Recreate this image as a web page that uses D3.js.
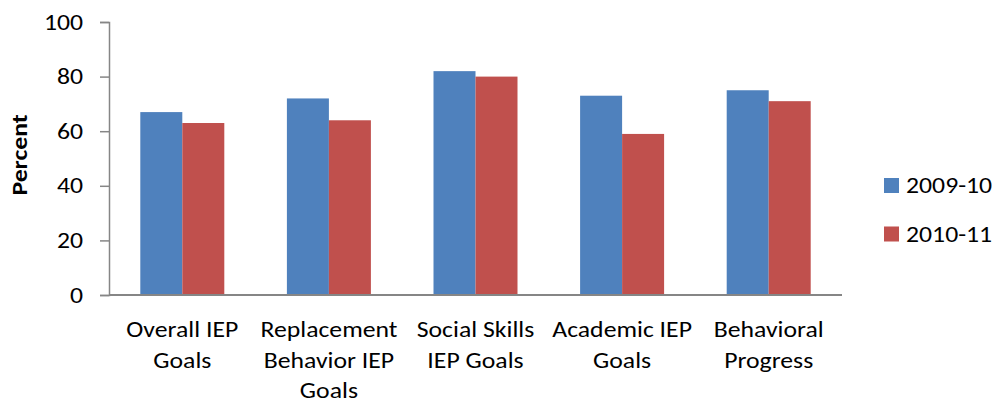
<!DOCTYPE html>
<html><head><meta charset="utf-8">
<script src="https://cdn.jsdelivr.net/npm/d3@7"></script>
<style>body{margin:0;background:#fff}svg{display:block}text{font-family:Carlito,Calibri,Lato,sans-serif;fill:#000}</style>
</head><body><svg id="c" width="997" height="404"></svg>
<script>
const categories = [["Overall IEP","Goals"],["Replacement","Behavior IEP","Goals"],["Social Skills","IEP Goals"],["Academic IEP","Goals"],["Behavioral","Progress"]];
const seriesNames = ["2009-10","2010-11"];
const values2009 = [67,72,82,73,75];
const values2010 = [63,64,80,59,71];
const yTicks = [0,20,40,60,80,100];
const colors = ["#4F81BD","#C0504D"];

const SX = 1.17;
const svg = d3.select("#c");
const mL = 109, mR = 842, mT = 22, mB = 295;
const pad = 1 - 84/146.6;
const x = d3.scaleBand().domain(d3.range(categories.length)).range([mL,mR]).paddingInner(pad).paddingOuter(pad/2);
const y = d3.scaleLinear().domain([0,100]).range([mB,mT]);
const sub = d3.scaleBand().domain([0,1]).range([0,x.bandwidth()]);

const series = [values2009, values2010];
series.forEach((vals, si) => {
  svg.append("g").selectAll("rect").data(vals).join("rect")
    .attr("x", (d,i) => x(i) + sub(si))
    .attr("y", d => y(d))
    .attr("width", sub.bandwidth())
    .attr("height", d => mB - y(d))
    .attr("fill", colors[si]);
});

const yAxis = svg.append("g").attr("transform",`translate(${mL},0)`)
  .call(d3.axisLeft(y).tickValues(yTicks).tickSize(9).tickPadding(17));
yAxis.selectAll("line,path").attr("stroke","#868686").attr("stroke-width",1.5);
yAxis.selectAll("text").style("font-size","22px").attr("fill","#000")
  .attr("x", -26/SX).attr("transform",`scale(${SX},1)`);

svg.append("line").attr("x1",mL).attr("x2",mR).attr("y1",mB).attr("y2",mB)
  .attr("stroke","#868686").attr("stroke-width",2);

const xl = svg.append("g");
categories.forEach((lines,i) => {
  const cx = x(i) + x.bandwidth()/2;
  lines.forEach((ln,j) => xl.append("text").attr("text-anchor","middle").style("font-size","22px")
    .attr("transform",`translate(${cx},${337+j*30.5}) scale(${SX},1)`).text(ln));
});

svg.append("text").attr("transform","translate(27,155) rotate(-90) scale(1.17,1)").attr("text-anchor","middle")
  .style("font-size","22px").style("font-weight","bold").text("Percent");

const lg = svg.append("g");
seriesNames.forEach((n,i) => {
  const yy = 178 + i*48.5;
  lg.append("rect").attr("x",884).attr("y",yy).attr("width",15).attr("height",15).attr("fill",colors[i]);
  lg.append("text").attr("transform",`translate(906,${yy+15.3}) scale(${SX},1)`).style("font-size","22px").text(n);
});
</script></body></html>
